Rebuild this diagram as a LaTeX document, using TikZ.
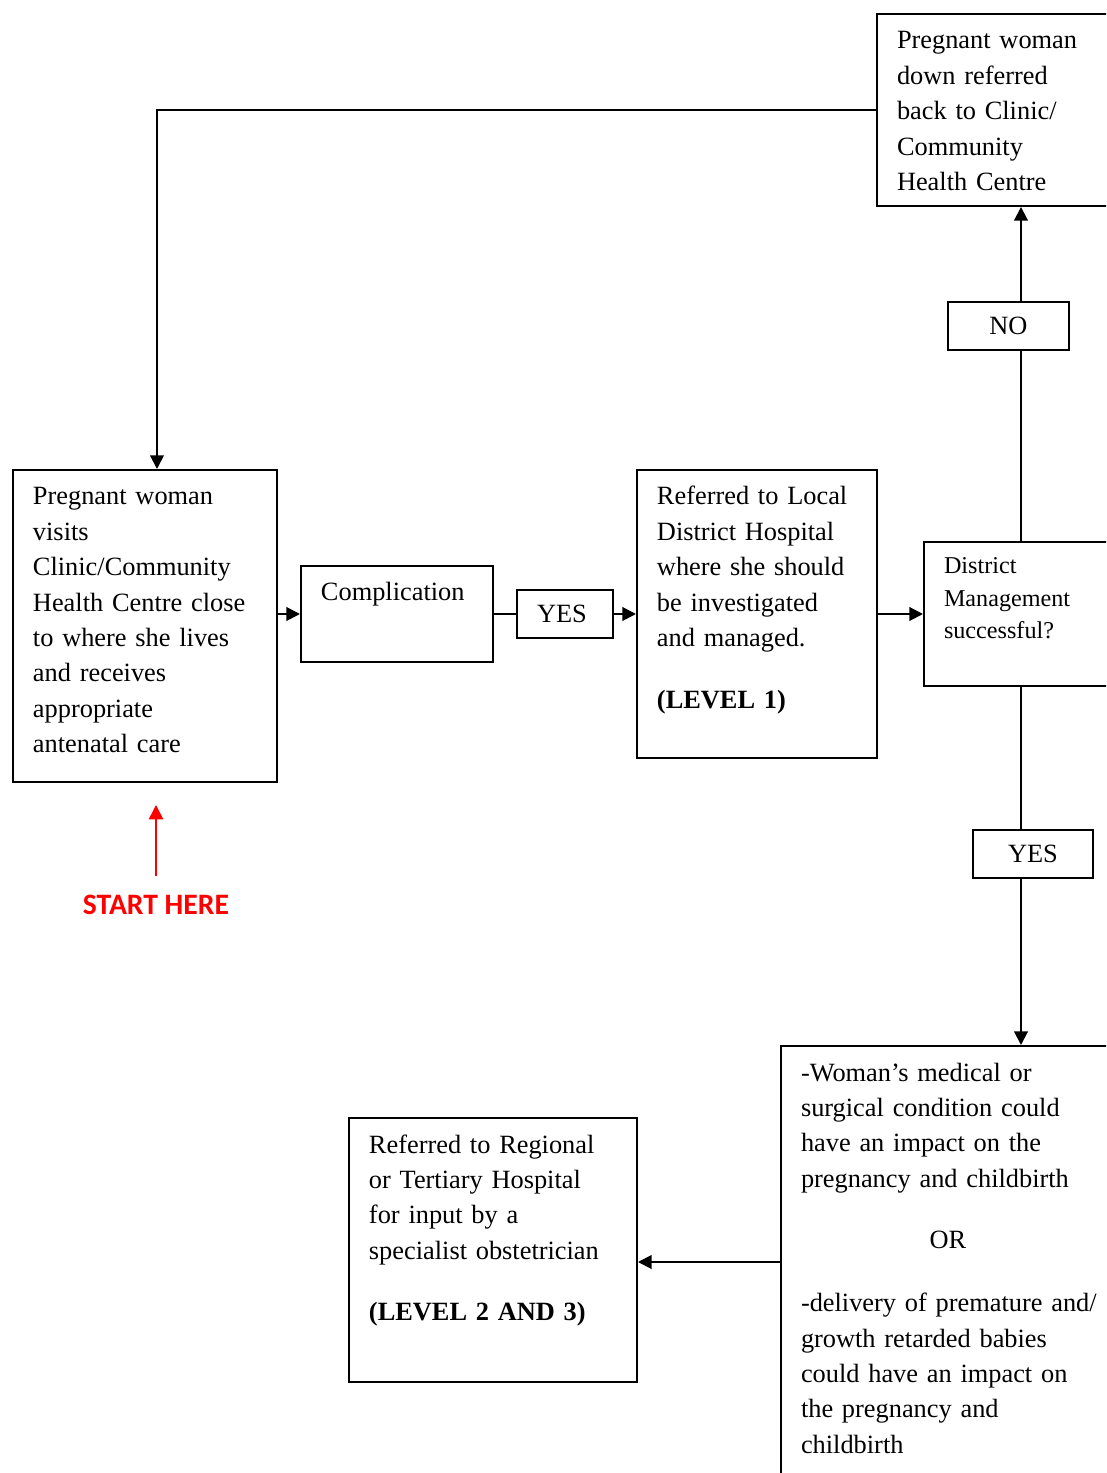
\documentclass[tikz,border=0pt]{standalone}
\usepackage{fontspec}
\setmainfont{Liberation Serif}
\newfontfamily\startfont{Carlito}
\usetikzlibrary{arrows.meta}
\newlength\px
\setlength\px{0.16mm}
\tikzset{
stage/.style={draw, line width=0.9pt, anchor=north west, align=left,
    inner xsep=20\px, inner ysep=0pt, text height=35\px,
    font=\fontsize{12}{16.1}\selectfont},
tag/.style={draw, line width=0.9pt, anchor=north west, minimum height=48\px,
    inner sep=0pt, font=\fontsize{12}{16.1}\selectfont},
flow/.style={line width=0.9pt, -{Triangle[length=2.2mm,width=2.2mm]}},
link/.style={line width=0.9pt}}

\begin{document}
\begin{tikzpicture}[x=0.16mm,y=-0.16mm]

                %one unit = one pixel of the 1106x1473 page
                \useasboundingbox (0,0) rectangle (1106,1473);
                \clip (0,0) rectangle (1106,1473);

                \node[stage, text width=248\px, text depth=157\px] (back) at (876,13)
                    {Pregnant woman\\down referred\\back to Clinic/\\Community\\Health Centre};
                \node[stage, text width=224\px, text depth=277\px] (visit) at (12,469)
                    {Pregnant woman\\visits\\Clinic/Community\\Health Centre close\\to where she lives\\and receives\\appropriate\\antenatal care};
                \node[stage, text width=152\px, text depth=61\px] (compl) at (300,565) {Complication};
                \node[tag, minimum width=96\px] (yes1) at (516,589) {\hspace*{-6\px}YES};
                \node[stage, text width=200\px, text depth=253\px] (level1) at (636,469)
                    {Referred to Local\\District Hospital\\where she should\\be investigated\\and managed.\\[27\px]\textbf{(LEVEL 1)}};
                \node[stage, text width=154\px, text height=32\px, text depth=112\px,
                    font=\fontsize{11}{14.6}\selectfont] (district) at (923,541)
                    {District\\Management\\successful?};
                \node[tag, minimum width=121\px] (no) at (947,301) {NO};
                \node[tag, minimum width=120\px] (yes2) at (972,829) {YES};
                \node[stage, text width=440\px, text depth=397\px] (cond) at (780,1045)
                    {-Woman’s medical or\\surgical condition could\\have an impact on the\\pregnancy and childbirth\\[26\px]\makebox[294\px]{OR}\\[28\px]-delivery of premature and/\\growth retarded babies\\could have an impact on\\the pregnancy and\\childbirth};
                \node[stage, text width=248\px, text depth=229\px] (regional) at (348,1117)
                    {Referred to Regional\\or Tertiary Hospital\\for input by a\\specialist obstetrician\\[26\px]\textbf{(LEVEL 2 AND 3)}};

                \draw[flow] (back.west) -| ([xshift=1.92mm]visit.north);
                \draw[flow] (visit.east |- compl.west) -- (compl.west);
                \draw[link] (compl.east) -- (yes1.west);
                \draw[flow] (yes1.east) -- (level1.west);
                \draw[flow] (level1.east) -- (district.west);
                \draw[link] (district.north) -- (district.north |- no.south);
                \draw[flow] (district.north |- no.north) -- (back.south);
                \draw[link] (district.south) -- (district.south |- yes2.north);
                \draw[flow] (district.south |- yes2.south) -- (cond.north);
                \draw[flow] (cond.west) -- (cond.west -| regional.east);

                \node[font={\startfont\fontsize{13.5}{15}\selectfont\bfseries}, text=red, inner ysep=3mm] (start) at (156,905) {START HERE};
                \draw[red, line width=0.7pt, -{Triangle[length=2.3mm,width=2.3mm]}] (start.north) -- ++(0,-71);

\end{tikzpicture}
\end{document}
